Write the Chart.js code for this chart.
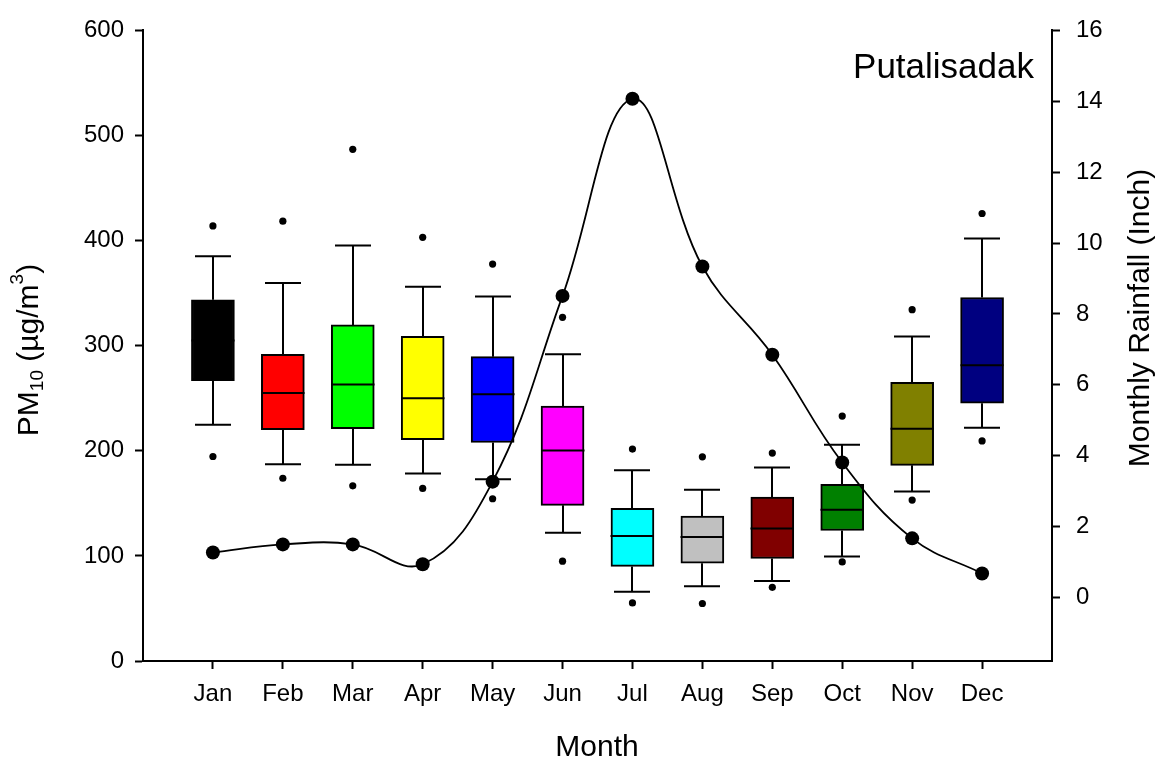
<!DOCTYPE html>
<html>
<head>
<meta charset="utf-8">
<script src="https://cdn.jsdelivr.net/npm/chart.js@4"></script>
<style>
  html, body { margin: 0; padding: 0; background: #fff; }
  #wrap { width: 1159px; height: 765px; }
</style>
</head>
<body>
<div id="wrap"><canvas id="pmChart" width="1159" height="765"></canvas></div>
<script>
var months = ["Jan", "Feb", "Mar", "Apr", "May", "Jun", "Jul", "Aug", "Sep", "Oct", "Nov", "Dec"];

// PM10 box plot stats (ug/m3)
var whiskerLow = [224.8, 187.1, 186.8, 178.3, 172.9, 122, 66, 71.1, 76.1, 99.4, 161.3, 222];
var q1 = [266.7, 220.1, 221, 210.7, 207.9, 148.1, 90, 93, 97.5, 124.2, 186.2, 245.3];
var median = [305, 255, 263.2, 250, 253.8, 200.3, 118.9, 117.9, 126.1, 144, 221, 281.4];
var q3 = [343.7, 291.8, 319.8, 308.8, 289.6, 242.5, 145.3, 138, 156, 168.2, 265.1, 345.9];
var whiskerHigh = [385, 359.7, 395.3, 356, 346.8, 291.8, 181.4, 162.9, 184, 205.7, 308.8, 401.9];
var outHigh = [414, 418.5, 486.8, 403.1, 377.7, 327, 201.6, 194.3, 197.8, 233, 334.3, 425.8];
var outLow = [194.6, 173.9, 166.7, 164.2, 154.4, 95, 55.3, 54.7, 70.1, 94.3, 153.1, 209.4];

// monthly rainfall (inch)
var rainfall = [1.27, 1.5, 1.5, 0.94, 3.27, 8.51, 14.07, 9.34, 6.85, 3.81, 1.67, 0.68];

var pmTicks = [0, 100, 200, 300, 400, 500, 600];
var rainTicks = [0, 2, 4, 6, 8, 10, 12, 14, 16];

var boxColors = ["#000000", "#FF0000", "#00FF00", "#FFFF00", "#0000FF", "#FF00FF",
                 "#00FFFF", "#C0C0C0", "#800000", "#008000", "#808000", "#000080"];

var FONT = "'Liberation Sans', Arial, sans-serif";

var boxData = months.map(function (m, i) { return { x: i, y: [q1[i], q3[i]] }; });
var outlierData = [];
months.forEach(function (m, i) {
  outlierData.push({ x: i, y: outHigh[i] });
  outlierData.push({ x: i, y: outLow[i] });
});
var rainData = rainfall.map(function (v, i) { return { x: i, y: v }; });

// whiskers + medians, drawn right after the boxes
var whiskerPlugin = {
  id: "whiskers",
  afterDatasetDraw: function (chart, args) {
    if (args.index !== 2) return;
    var ctx = chart.ctx;
    var xs = chart.scales.x, ys = chart.scales.y;
    ctx.save();
    ctx.strokeStyle = "#000";
    ctx.lineWidth = 2;
    months.forEach(function (m, i) {
      var px = Math.round(xs.getPixelForValue(i));
      var cap = 18, half = 21.5;
      var yTop = ys.getPixelForValue(q3[i]);
      var yBot = ys.getPixelForValue(q1[i]);
      var yHi = ys.getPixelForValue(whiskerHigh[i]);
      var yLo = ys.getPixelForValue(whiskerLow[i]);
      var yMed = ys.getPixelForValue(median[i]);
      ctx.beginPath();
      ctx.moveTo(px, yTop); ctx.lineTo(px, yHi);
      ctx.moveTo(px - cap, yHi); ctx.lineTo(px + cap, yHi);
      ctx.moveTo(px, yBot); ctx.lineTo(px, yLo);
      ctx.moveTo(px - cap, yLo); ctx.lineTo(px + cap, yLo);
      ctx.moveTo(px - half, yMed); ctx.lineTo(px + half, yMed);
      ctx.stroke();
    });
    ctx.restore();
  }
};

// axis titles and site label
var textPlugin = {
  id: "texts",
  afterDraw: function (chart) {
    var ctx = chart.ctx;
    ctx.save();
    ctx.fillStyle = "#000";
    ctx.textBaseline = "middle";

    ctx.font = "30px " + FONT;
    ctx.textAlign = "center";
    ctx.fillText("Month", 597, 748);

    ctx.font = "35px " + FONT;
    ctx.textAlign = "right";
    ctx.fillText("Putalisadak", 1034, 68);

    // right title
    ctx.save();
    ctx.translate(1141, 318);
    ctx.rotate(-Math.PI / 2);
    ctx.font = "30px " + FONT;
    ctx.textAlign = "center";
    ctx.fillText("Monthly Rainfall (Inch)", 0, 0);
    ctx.restore();

    // left title with sub/superscript
    var parts = [
      { t: "PM", size: 30, dy: 0 },
      { t: "10", size: 19, dy: 8 },
      { t: " (\u00b5g/m", size: 30, dy: 0 },
      { t: "3", size: 19, dy: -12 },
      { t: ")", size: 30, dy: 0 }
    ];
    var total = 0;
    parts.forEach(function (p) {
      ctx.font = p.size + "px " + FONT;
      p.w = ctx.measureText(p.t).width;
      total += p.w;
    });
    ctx.save();
    ctx.translate(30, 350);
    ctx.rotate(-Math.PI / 2);
    ctx.textAlign = "left";
    var cx = -total / 2;
    parts.forEach(function (p) {
      ctx.font = p.size + "px " + FONT;
      ctx.fillText(p.t, cx, p.dy);
      cx += p.w;
    });
    ctx.restore();

    ctx.restore();
  }
};

var axisGrid = {
  drawOnChartArea: false,
  drawTicks: true,
  tickLength: 8,
  tickWidth: 2,
  color: "#000",
  offset: false
};

var config = {
  type: "bar",
  data: {
    datasets: [
      {
        type: "line",
        label: "Rainfall",
        data: rainData,
        yAxisID: "y2",
        xAxisID: "x",
        borderColor: "#000",
        borderWidth: 1.8,
        backgroundColor: "#000",
        pointRadius: 7,
        pointBackgroundColor: "#000",
        pointBorderWidth: 0,
        tension: 0.4,
        fill: false
      },
      {
        type: "scatter",
        label: "Outliers",
        data: outlierData,
        yAxisID: "y",
        xAxisID: "x",
        pointRadius: 3.6,
        pointBackgroundColor: "#000",
        pointBorderWidth: 0,
        showLine: false
      },
      {
        type: "bar",
        label: "PM10",
        data: boxData,
        yAxisID: "y",
        xAxisID: "x",
        backgroundColor: boxColors,
        borderColor: "#000",
        borderWidth: 2,
        borderSkipped: false,
        barThickness: 43
      }
    ]
  },
  options: {
    responsive: false,
    animation: false,
    layout: { padding: { top: 25, left: 0, right: 0, bottom: 0 } },
    plugins: {
      legend: { display: false },
      tooltip: { enabled: false }
    },
    scales: {
      x: {
        type: "linear",
        position: "bottom",
        min: -1,
        max: 12,
        offset: false,
        grid: axisGrid,
        border: { display: true, color: "#000", width: 2 },
        afterBuildTicks: function (scale) {
          scale.ticks = months.map(function (m, i) { return { value: i }; });
        },
        afterFit: function (scale) { scale.height = 104; },
        ticks: {
          color: "#000",
          font: { family: FONT, size: 24 },
          padding: 11,
          maxRotation: 0,
          autoSkip: false,
          callback: function (v) { return months[v]; }
        }
      },
      y: {
        type: "linear",
        position: "left",
        min: 0,
        max: 600,
        grid: axisGrid,
        border: { display: true, color: "#000", width: 2 },
        afterBuildTicks: function (scale) {
          scale.ticks = pmTicks.map(function (v) { return { value: v }; });
        },
        afterFit: function (scale) { scale.width = 143; },
        ticks: {
          color: "#000",
          font: { family: FONT, size: 24 },
          padding: 11
        }
      },
      y2: {
        type: "linear",
        position: "right",
        min: -1.79,
        max: 16,
        grid: axisGrid,
        border: { display: true, color: "#000", width: 2 },
        afterBuildTicks: function (scale) {
          scale.ticks = rainTicks.map(function (v) { return { value: v }; });
        },
        afterFit: function (scale) { scale.width = 107; },
        ticks: {
          color: "#000",
          font: { family: FONT, size: 24 },
          padding: 16
        }
      }
    }
  },
  plugins: [whiskerPlugin, textPlugin]
};

var pmChart = new Chart(document.getElementById("pmChart"), config);
</script>
</body>
</html>
